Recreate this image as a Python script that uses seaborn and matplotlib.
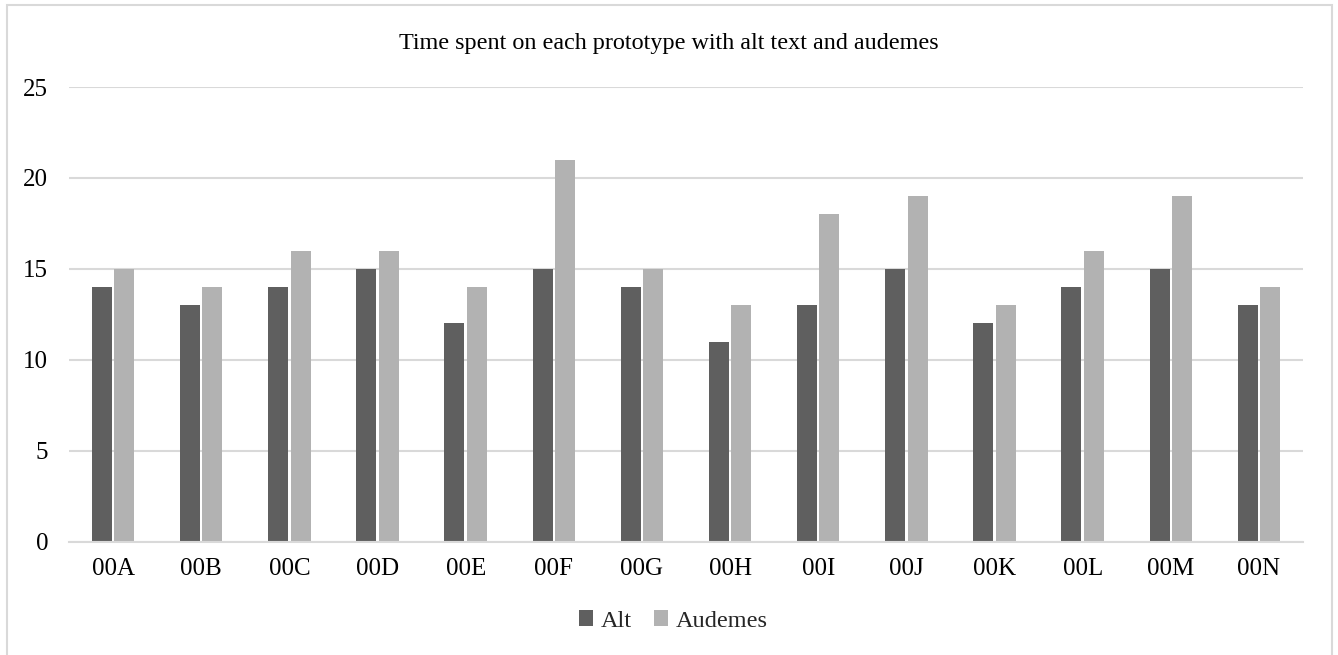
import matplotlib
matplotlib.use("Agg")
import matplotlib.pyplot as plt
import seaborn as sns
import pandas as pd
from matplotlib.patches import Rectangle

categories = ["00A", "00B", "00C", "00D", "00E", "00F", "00G", "00H", "00I", "00J", "00K", "00L", "00M", "00N"]
alt = [14, 13, 14, 15, 12, 15, 14, 11, 13, 15, 12, 14, 15, 13]
audemes = [15, 14, 16, 16, 14, 21, 15, 13, 18, 19, 13, 16, 19, 14]
series_names = ["Alt", "Audemes"]
yticks = [0, 5, 10, 15, 20, 25]
title = "Time spent on each prototype with alt text and audemes"

df = pd.DataFrame({
    "cat": categories * 2,
    "val": alt + audemes,
    "series": [series_names[0]] * len(alt) + [series_names[1]] * len(audemes),
})

sns.set_theme(style="white")
plt.rcParams["font.family"] = ["Liberation Serif", "DejaVu Serif"]

fig = plt.figure(figsize=(13.38, 6.55), dpi=100)
ax = fig.add_axes([69 / 1338, 1 - 541.7 / 655, (1303 - 69) / 1338, (541.7 - 87) / 655])

sns.barplot(data=df, x="cat", y="val", hue="series", order=categories,
            hue_order=series_names, palette=["#5f5f5f", "#b2b2b2"],
            width=0.51, gap=0.11, ax=ax, legend=True, linewidth=0, saturation=1)

ax.set_ylim(0, 25)
ax.set_xlim(-0.5, len(categories) - 0.5)
ax.set_yticks(yticks)
ax.set_yticklabels([str(t) for t in yticks])
ax.yaxis.grid(True, color="#d9d9d9", linewidth=1.5)
ax.set_axisbelow(True)
for s in ["left", "right", "top"]:
    ax.spines[s].set_visible(False)
ax.spines["bottom"].set_color("#d9d9d9")
ax.spines["bottom"].set_linewidth(1.5)
ax.tick_params(axis="y", length=0, pad=15, labelsize=18, colors="black")
ax.tick_params(axis="x", length=0, pad=12, labelsize=18, colors="black")
ax.set_xlabel("")
ax.set_ylabel("")

fig.text(669 / 1338, 1 - 43 / 655, title, ha="center", va="center", fontsize=17.4, color="black")

h, l = ax.get_legend_handles_labels()
ax.get_legend().remove()
fig.legend(h, l, loc="center", bbox_to_anchor=(673 / 1338, 1 - 621 / 655), ncol=2,
           frameon=False, fontsize=17.5, handlelength=0.6, handleheight=0.6,
           handletextpad=0.3, columnspacing=0.9)

fig.patches.append(Rectangle((7 / 1338, -0.05), (1332 - 7) / 1338, 1 - 5 / 655 + 0.05,
                             transform=fig.transFigure, fill=False,
                             edgecolor="#d9d9d9", linewidth=1.5))

fig.savefig("out.png", dpi=100, facecolor="white")
